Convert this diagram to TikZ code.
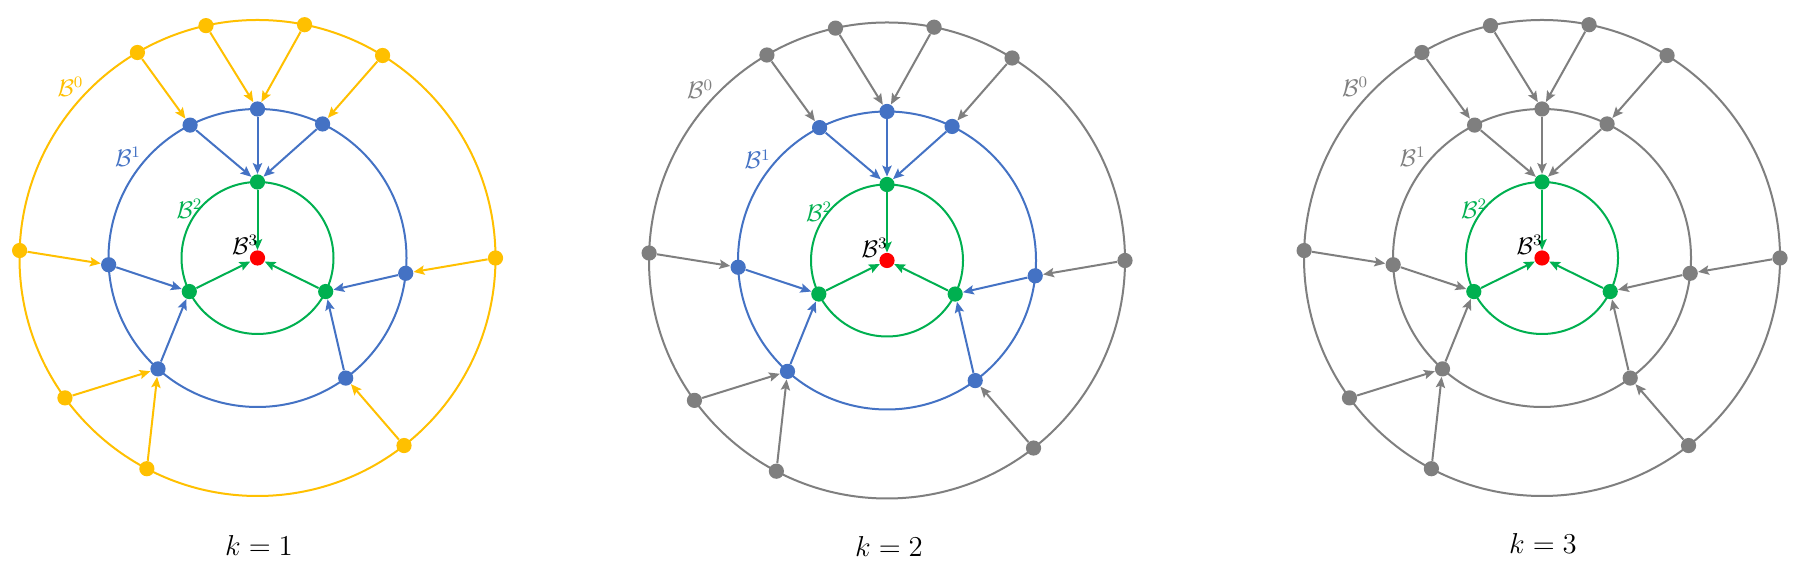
\documentclass[tikz,border=0pt]{standalone}
\usepackage{amsmath}
\usetikzlibrary{arrows.meta}
\definecolor{cyel}{HTML}{FFC000}
\definecolor{cblu}{HTML}{4472C4}
\definecolor{cgrn}{HTML}{00B050}
\definecolor{cred}{HTML}{FF0000}
\definecolor{cgry}{HTML}{7F7F7F}
\tikzset{
  dot/.style={circle, fill=#1, draw=none, inner sep=0pt, minimum size=7.6pt},
  ring/.style={draw=#1, line width=1pt},
  arr/.style={draw=#1, line width=1pt, -{Stealth[length=5.4pt,width=4.6pt,inset=1pt]}},
  blab/.style={text=#1, inner sep=0pt, font=\fontsize{11.5}{13}\selectfont},
  klab/.style={inner sep=0pt, font=\fontsize{14.4}{17}\selectfont}
}
\newcommand\ringdiagram[5]{%
\begin{scope}[shift={(#2,#3)}]
  \draw[ring=#4] (0,0) circle (238);
  \draw[ring=#5] (0,0) circle (149);
  \draw[ring=cgrn] (0,0) circle (76);
  \foreach \n/\a in {1/102.5,2/78.6,3/120.3,4/58.3,5/178.2,6/0,7/216,8/242.3,9/308}
    \node[dot=#4] (#1o\n) at (\a:238) {};
  \foreach \n/\a in {1/90,2/116.9,3/64.1,4/182.6,5/354.1,6/228.1,7/306.3}
    \node[dot=#5] (#1m\n) at (\a:149) {};
  \foreach \n/\a in {1/90,2/206.2,3/333.8}
    \node[dot=cgrn] (#1g\n) at (\a:76) {};
  \node[dot=cred] (#1r) at (0,0) {};
  \foreach \s/\t in {o1/m1,o2/m1,o3/m2,o4/m3,o5/m4,o6/m5,o7/m6,o8/m6,o9/m7}
    \draw[arr=#4] (#1\s) -- (#1\t);
  \foreach \s/\t in {m2/g1,m1/g1,m3/g1,m4/g2,m6/g2,m5/g3,m7/g3}
    \draw[arr=#5] (#1\s) -- (#1\t);
  \foreach \s in {g1,g2,g3}
    \draw[arr=cgrn] (#1\s) -- (#1r);
  \node[blab=#4] (#1L0) at (-187,171) {$\mathcal{B}^0$};
  \node[blab=#5] (#1L1) at (-129.5,101) {$\mathcal{B}^1$};
  \node[blab=cgrn] (#1L2) at (-68,49) {$\mathcal{B}^2$};
  \node[blab=black] (#1L3) at (-12.5,13) {$\mathcal{B}^3$};
\end{scope}}
\begin{document}
\begin{tikzpicture}[x=0.5pt,y=0.5pt]
  \useasboundingbox[fill=white] (0,0) rectangle (1797,566);
  \ringdiagram{a}{257.5}{308}{cyel}{cblu}
  \ringdiagram{b}{887}{305.5}{cgry}{cblu}
  \ringdiagram{c}{1542}{308}{cgry}{cgry}
  \node[klab] (k1) at (259,20) {$k=1$};
  \node[klab] (k2) at (889,19) {$k=2$};
  \node[klab] (k3) at (1543,22) {$k=3$};
\end{tikzpicture}
\end{document}
